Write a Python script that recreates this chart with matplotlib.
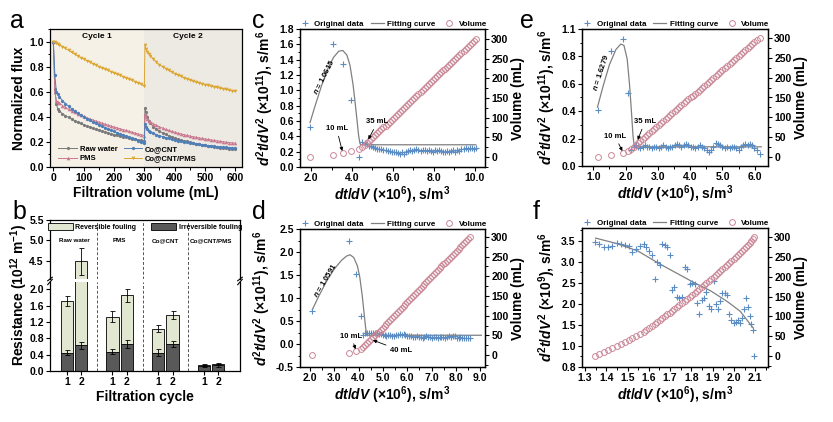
import matplotlib
matplotlib.use('Agg')
import matplotlib.pyplot as plt
from matplotlib.ticker import AutoMinorLocator, FixedLocator, FixedFormatter
from matplotlib.lines import Line2D
from matplotlib.patches import Patch

plt.rcParams['font.family'] = ['Liberation Sans', 'DejaVu Sans']
plt.rcParams['font.weight'] = 'bold'
plt.rcParams['axes.labelweight'] = 'bold'
plt.rcParams['mathtext.fontset'] = 'custom'
plt.rcParams['mathtext.rm'] = 'Liberation Sans:bold'
plt.rcParams['mathtext.it'] = 'Liberation Sans:italic:bold'
plt.rcParams['mathtext.bf'] = 'Liberation Sans:bold'
plt.rcParams['axes.linewidth'] = 0.9

#colours
GRAY = '#7a7a7a'
PINK = '#c97890'
BLUE = '#4f7fb8'
ORANGE = '#dba530'
CROSS = '#5b8cc4'
CIRC = '#c98796'
FIT = '#808080'
LIGHT = '#e2e7d2'
DARK = '#595959'

#PANEL A DATA (flux vs filtration volume, two cycles)
################################################################################
vol_a = [0, 5, 10, 15, 20, 30, 40, 50, 60, 70, 80, 90, 100, 110, 120, 130, 140,
         150, 160, 170, 180, 190, 200, 210, 220, 230, 240, 250, 260, 270, 280,
         290, 300,
         302, 305, 310, 315, 320, 330, 340, 350, 360, 370, 380, 390, 400, 410,
         420, 430, 440, 450, 460, 470, 480, 490, 500, 510, 520, 530, 540, 550,
         560, 570, 580, 590, 600]
raw_water = [1.0, 0.62, 0.50, 0.46, 0.445, 0.425, 0.41, 0.395, 0.382, 0.37, 0.358,
             0.347, 0.337, 0.327, 0.318, 0.309, 0.301, 0.293, 0.285, 0.278, 0.271,
             0.264, 0.258, 0.252, 0.246, 0.241, 0.236, 0.231, 0.226, 0.221, 0.216,
             0.212, 0.207,
             0.47, 0.44, 0.40, 0.37, 0.35, 0.32, 0.30, 0.285, 0.272, 0.26, 0.25,
             0.24, 0.232, 0.224, 0.217, 0.21, 0.204, 0.198, 0.192, 0.187, 0.182,
             0.177, 0.173, 0.169, 0.165, 0.161, 0.157, 0.154, 0.151, 0.148, 0.145,
             0.142, 0.14]
pms = [1.0, 0.60, 0.53, 0.52, 0.51, 0.49, 0.475, 0.46, 0.447, 0.435, 0.424, 0.413,
       0.403, 0.393, 0.384, 0.375, 0.366, 0.358, 0.35, 0.342, 0.334, 0.326, 0.319,
       0.312, 0.305, 0.298, 0.291, 0.284, 0.277, 0.27, 0.263, 0.257, 0.25,
       0.42, 0.40, 0.385, 0.37, 0.36, 0.345, 0.332, 0.32, 0.31, 0.30, 0.292, 0.284,
       0.277, 0.27, 0.264, 0.258, 0.252, 0.247, 0.242, 0.237, 0.232, 0.228, 0.224,
       0.22, 0.216, 0.212, 0.208, 0.205, 0.201, 0.198, 0.195, 0.192, 0.19]
co_cnt = [1.0, 0.73, 0.60, 0.58, 0.56, 0.53, 0.505, 0.485, 0.465, 0.447, 0.43,
          0.415, 0.40, 0.386, 0.373, 0.36, 0.348, 0.336, 0.325, 0.314, 0.303, 0.293,
          0.283, 0.273, 0.264, 0.255, 0.246, 0.237, 0.228, 0.22, 0.211, 0.203, 0.195,
          0.34, 0.32, 0.30, 0.29, 0.28, 0.268, 0.258, 0.25, 0.242, 0.235, 0.228,
          0.222, 0.216, 0.21, 0.205, 0.20, 0.196, 0.192, 0.188, 0.184, 0.18, 0.177,
          0.174, 0.171, 0.168, 0.165, 0.163, 0.16, 0.158, 0.156, 0.154, 0.152, 0.15]
co_cnt_pms = [1.00, 0.995, 0.99, 0.98, 0.975, 0.96, 0.945, 0.93, 0.915, 0.90, 0.885,
              0.872, 0.86, 0.848, 0.836, 0.824, 0.812, 0.80, 0.79, 0.78, 0.77, 0.76,
              0.75, 0.74, 0.73, 0.72, 0.71, 0.70, 0.69, 0.68, 0.67, 0.66, 0.645,
              0.97, 0.94, 0.92, 0.90, 0.885, 0.86, 0.835, 0.815, 0.80, 0.785, 0.77,
              0.757, 0.745, 0.734, 0.723, 0.713, 0.703, 0.695, 0.686, 0.678, 0.671,
              0.664, 0.657, 0.651, 0.645, 0.639, 0.634, 0.628, 0.623, 0.618, 0.613,
              0.608, 0.603]

#PANEL B DATA (fouling resistance)
################################################################################
groups = ['Raw water', 'PMS', 'Co@CNT', 'Co@CNT/PMS']
cycle_labels = ['1', '2', '1', '2', '1', '2', '1', '2']
bar_pos = [0, 1, 3.15, 4.15, 6.3, 7.3, 9.45, 10.45]
irreversible = [0.45, 0.63, 0.47, 0.66, 0.45, 0.66, 0.13, 0.14]
irreversible_err = [0.06, 0.08, 0.06, 0.10, 0.08, 0.07, 0.02, 0.03]
reversible = [1.26, 3.86, 0.86, 1.19, 0.59, 0.71, 0.02, 0.03]
total_err = [0.13, 0.33, 0.13, 0.16, 0.08, 0.10, 0.02, 0.02]

#PANELS C-F DATA (d2t/dV2 vs dt/dV, and volume)
################################################################################
vol = [0, 5, 10, 15, 20, 25, 30, 35, 40, 45, 50, 55, 60, 65, 70, 75, 80, 85, 90,
       95, 100, 105, 110, 115, 120, 125, 130, 135, 140, 145, 150, 155, 160, 165,
       170, 175, 180, 185, 190, 195, 200, 205, 210, 215, 220, 225, 230, 235, 240,
       245, 250, 255, 260, 265, 270, 275, 280, 285, 290, 295, 300]

c_x = [1.95, 3.05, 3.55, 3.95, 4.35, 4.50, 4.62, 4.72, 4.83, 4.93, 5.03, 5.13,
       5.23, 5.34, 5.44, 5.54, 5.64, 5.74, 5.84, 5.94, 6.04, 6.14, 6.24, 6.35,
       6.45, 6.55, 6.65, 6.75, 6.85, 6.95, 7.05, 7.15, 7.25, 7.35, 7.45, 7.55,
       7.65, 7.75, 7.85, 7.95, 8.05, 8.15, 8.25, 8.35, 8.45, 8.55, 8.65, 8.75,
       8.85, 8.95, 9.05, 9.15, 9.25, 9.35, 9.45, 9.55, 9.65, 9.75, 9.85, 9.95, 10.05]
c_y = [0.52, 1.61, 1.34, 0.88, 0.13, 0.33, 0.31, 0.30, 0.28, 0.27, 0.26, 0.25,
       0.24, 0.24, 0.23, 0.22, 0.22, 0.21, 0.21, 0.20, 0.20, 0.19, 0.18, 0.17,
       0.19, 0.17, 0.20, 0.21, 0.22, 0.21, 0.22, 0.23, 0.22, 0.21, 0.22, 0.22,
       0.21, 0.22, 0.21, 0.20, 0.22, 0.21, 0.22, 0.21, 0.20, 0.19, 0.21, 0.20,
       0.21, 0.22, 0.20, 0.22, 0.21, 0.23, 0.24, 0.25, 0.24, 0.25, 0.25, 0.24, 0.25]
c_fit_x = [1.95, 2.2, 2.5, 2.8, 3.1, 3.35, 3.55, 3.75, 3.9, 4.05, 4.15, 4.25,
           4.32, 4.38, 4.42, 10.05]
c_fit_y = [0.58, 0.80, 1.05, 1.27, 1.43, 1.51, 1.52, 1.46, 1.33, 1.08, 0.85, 0.60,
           0.42, 0.32, 0.29, 0.29]

d_x = [2.10, 3.60, 3.90, 4.08, 4.18, 4.28, 4.36, 4.44, 4.51, 4.60, 4.67, 4.75,
       4.83, 4.91, 4.99, 5.07, 5.14, 5.22, 5.30, 5.38, 5.46, 5.53, 5.61, 5.69,
       5.77, 5.85, 5.92, 6.00, 6.08, 6.17, 6.24, 6.32, 6.40, 6.47, 6.55, 6.63,
       6.71, 6.79, 6.86, 6.94, 7.02, 7.10, 7.18, 7.25, 7.33, 7.41, 7.49, 7.57,
       7.64, 7.72, 7.80, 7.88, 7.96, 8.03, 8.11, 8.19, 8.27, 8.35, 8.42, 8.50, 8.60]
d_y = [0.72, 2.23, 1.52, 0.61, 0.20, 0.24, 0.25, 0.24, 0.25, 0.24, 0.23, 0.24,
       0.22, 0.21, 0.20, 0.19, 0.18, 0.19, 0.20, 0.18, 0.17, 0.19, 0.20, 0.21,
       0.20, 0.21, 0.19, 0.18, 0.17, 0.18, 0.16, 0.15, 0.17, 0.16, 0.15, 0.14,
       0.16, 0.17, 0.16, 0.15, 0.14, 0.16, 0.15, 0.13, 0.15, 0.16, 0.15, 0.14,
       0.16, 0.17, 0.16, 0.18, 0.17, 0.14, 0.13, 0.15, 0.14, 0.13, 0.12, 0.13, 0.12]
d_fit_x = [2.10, 2.4, 2.7, 3.0, 3.3, 3.5, 3.65, 3.8, 3.95, 4.05, 4.15, 4.22, 4.28,
           4.33, 9.05]
d_fit_y = [0.75, 1.08, 1.38, 1.63, 1.82, 1.91, 1.94, 1.88, 1.70, 1.45, 1.05, 0.70,
           0.40, 0.19, 0.19]

e_x = [1.13, 1.56, 1.93, 2.08, 2.17, 2.25, 2.32, 2.39, 2.46, 2.53, 2.60, 2.67,
       2.74, 2.81, 2.88, 2.95, 3.03, 3.10, 3.17, 3.24, 3.31, 3.38, 3.45, 3.52,
       3.59, 3.66, 3.73, 3.80, 3.87, 3.94, 4.01, 4.09, 4.16, 4.23, 4.30, 4.37,
       4.44, 4.51, 4.58, 4.65, 4.72, 4.79, 4.86, 4.93, 5.00, 5.07, 5.14, 5.22,
       5.29, 5.36, 5.43, 5.50, 5.57, 5.64, 5.71, 5.78, 5.85, 5.92, 5.99, 6.06, 6.15]
e_y = [0.41, 0.84, 0.93, 0.53, 0.12, 0.14, 0.15, 0.14, 0.13, 0.14, 0.15, 0.14,
       0.14, 0.13, 0.14, 0.14, 0.13, 0.14, 0.15, 0.14, 0.13, 0.14, 0.14, 0.15,
       0.16, 0.15, 0.14, 0.15, 0.16, 0.15, 0.14, 0.14, 0.13, 0.14, 0.15, 0.14,
       0.13, 0.12, 0.10, 0.12, 0.14, 0.17, 0.16, 0.15, 0.14, 0.13, 0.14, 0.13,
       0.14, 0.14, 0.13, 0.12, 0.14, 0.15, 0.16, 0.15, 0.16, 0.15, 0.13, 0.12, 0.09]
e_fit_x = [1.13, 1.3, 1.5, 1.7, 1.85, 1.95, 2.05, 2.12, 2.18, 2.23, 2.27, 6.2]
e_fit_y = [0.43, 0.58, 0.74, 0.85, 0.89, 0.88, 0.78, 0.60, 0.40, 0.22, 0.14, 0.14]

f_x = [1.347, 1.368, 1.388, 1.409, 1.429, 1.450, 1.470, 1.488, 1.505, 1.523,
       1.540, 1.558, 1.575, 1.588, 1.601, 1.614, 1.627, 1.640, 1.653, 1.664,
       1.675, 1.686, 1.698, 1.709, 1.720, 1.731, 1.743, 1.756, 1.768, 1.780,
       1.793, 1.805, 1.816, 1.827, 1.838, 1.849, 1.860, 1.871, 1.882, 1.893,
       1.904, 1.914, 1.925, 1.935, 1.946, 1.956, 1.967, 1.977, 1.988, 1.998,
       2.009, 2.019, 2.030, 2.039, 2.048, 2.057, 2.066, 2.074, 2.082, 2.089, 2.095]
f_y = [3.47, 3.42, 3.36, 3.35, 3.37, 3.44, 3.43, 3.40, 3.38, 3.22,
       3.29, 3.37, 3.42, 3.35, 3.25, 3.17, 2.58, 2.99, 2.93, 3.42,
       3.40, 3.34, 3.15, 2.32, 2.40, 2.17, 2.14, 2.16, 2.88, 2.83,
       2.47, 2.50, 2.47, 2.03, 1.77, 2.10, 2.15, 2.29, 1.95, 1.88,
       2.54, 2.00, 1.88, 2.06, 2.25, 2.25, 2.22, 1.75, 1.61, 1.55,
       1.58, 1.61, 1.54, 1.67, 1.88, 2.14, 1.92, 1.71, 1.53, 1.39, 0.75]
f_fit_x = [1.35, 1.45, 1.55, 1.65, 1.73, 1.81, 1.89, 1.97, 2.03, 2.09]
f_fit_y = [3.56, 3.43, 3.25, 2.95, 2.73, 2.51, 2.31, 2.05, 1.82, 1.43]

#LAYOUT
################################################################################
W, H = 833, 422
fig = plt.figure(figsize=(W / 100, H / 100), dpi=100)


def px_rect(x0, y0, x1, y1):
    return [x0 / W, 1 - y1 / H, (x1 - x0) / W, (y1 - y0) / H]


def style_ticks(ax, minor_x=True, minor_y=True):
    ax.tick_params(which='major', direction='out', length=3, width=0.8,
                   labelsize=7.5, pad=1.5)
    ax.tick_params(which='minor', direction='out', length=1.8, width=0.7)
    if minor_x:
        ax.xaxis.set_minor_locator(AutoMinorLocator(2))
    if minor_y:
        ax.yaxis.set_minor_locator(AutoMinorLocator(2))


#A: NORMALIZED FLUX
################################################################################
ax_a = fig.add_axes(px_rect(50, 29, 242, 167))
ax_a.axvspan(-11, 300, color='#f5f1e6', lw=0, zorder=0)
ax_a.axvspan(300, 622, color='#edeae3', lw=0, zorder=0)
ax_a.plot(vol_a, raw_water, '-o', color=GRAY, ms=2.3, lw=0.7, mew=0, label='Raw water')
ax_a.plot(vol_a, pms, '-^', color=PINK, ms=2.6, lw=0.7, mew=0, label='PMS')
ax_a.plot(vol_a, co_cnt, '-h', color=BLUE, ms=2.6, lw=0.7, mew=0, label='Co@CNT')
ax_a.plot(vol_a, co_cnt_pms, '-v', color=ORANGE, ms=2.6, lw=0.7, mew=0, label='Co@CNT/PMS')
ax_a.set_xlim(-11, 622)
ax_a.set_ylim(0, 1.1)
ax_a.set_xticks([0, 100, 200, 300, 400, 500, 600])
ax_a.set_yticks([0.0, 0.2, 0.4, 0.6, 0.8, 1.0])
ax_a.set_yticklabels(['0.0', '0.2', '0.4', '0.6', '0.8', '1.0'])
style_ticks(ax_a)
ax_a.text(145, 1.04, 'Cycle 1', fontsize=6, ha='center', va='center')
ax_a.text(445, 1.04, 'Cycle 2', fontsize=6, ha='center', va='center')
ax_a.set_xlabel('Filtration volume (mL)', fontsize=10, labelpad=2)
ax_a.set_ylabel('Normalized flux', fontsize=10, labelpad=2)
ax_a.legend(loc='lower left', bbox_to_anchor=(0.02, 0.0), ncol=2, frameon=False,
            fontsize=5.5, handlelength=2.4, labelspacing=0.25, columnspacing=0.8,
            handletextpad=0.4, borderaxespad=0.2)

#B: FOULING RESISTANCE (broken axis)
################################################################################
ax_bu = fig.add_axes(px_rect(50, 220, 240, 279))
ax_bl = fig.add_axes(px_rect(50, 282, 240, 371))
totals = [i + r for i, r in zip(irreversible, reversible)]
for ax in (ax_bu, ax_bl):
    ax.bar(bar_pos, irreversible, width=0.85, color=DARK, edgecolor='black', lw=0.6)
    ax.bar(bar_pos, reversible, width=0.85, bottom=irreversible, color=LIGHT,
           edgecolor='black', lw=0.6)
    ax.errorbar(bar_pos, irreversible, yerr=irreversible_err, fmt='none',
                ecolor='black', elinewidth=0.6, capsize=1.8, capthick=0.6)
    ax.errorbar(bar_pos, totals, yerr=total_err, fmt='none', ecolor='black',
                elinewidth=0.6, capsize=1.8, capthick=0.6)
    for sep in [2.075, 5.225, 8.375]:
        ax.axvline(sep, color='#555555', ls=(0, (3, 2)), lw=0.7)
    ax.set_xlim(-1.16, 11.95)
    style_ticks(ax, minor_x=False, minor_y=False)

ax_bl.set_ylim(0, 2.18)
ax_bl.set_yticks([0.0, 0.4, 0.8, 1.2, 1.6, 2.0])
ax_bl.set_yticklabels(['0.0', '0.4', '0.8', '1.2', '1.6', '2.0'])
ax_bl.set_xticks(bar_pos)
ax_bl.set_xticklabels(cycle_labels)
ax_bl.spines['top'].set_visible(False)
ax_bl.set_xlabel('Filtration cycle', fontsize=10, labelpad=2)

ax_bu.set_ylim(4.05, 5.5)
ax_bu.set_yticks([4.5, 5.0, 5.5])
ax_bu.set_yticklabels(['4.5', '5.0', '5.5'])
ax_bu.set_xticks([])
ax_bu.spines['bottom'].set_visible(False)
for g, name in enumerate(groups):
    ax_bu.text(bar_pos[2 * g] + 0.5, 5.0, name, fontsize=4.5, ha='center', va='center')
ax_bu.legend(handles=[Patch(facecolor=LIGHT, edgecolor='black', lw=0.6, label='Reversible fouling'),
                      Patch(facecolor=DARK, edgecolor='black', lw=0.6, label='Irreversible fouling')],
             loc='upper center', bbox_to_anchor=(0.5, 1.02), ncol=2, frameon=False,
             fontsize=5, handlelength=3.6, handleheight=1.1, columnspacing=2.2,
             handletextpad=0.3, borderaxespad=0.2)

#break marks
for ax, yb in ((ax_bl, 1.0), (ax_bu, 0.0)):
    for xb in (0.0, 1.0):
        ax.plot([xb - 0.012, xb + 0.012], [yb - 0.03, yb + 0.03], color='black',
                lw=0.8, transform=ax.transAxes, clip_on=False)

fig.text(19 / W, 1 - 295 / H, 'Resistance (10$^{12}$ m$^{-1}$)', rotation=90,
         fontsize=10, ha='center', va='center')


#C-F: BLOCKING MODEL PANELS
################################################################################
def dtdv_panel(rect, x, y, fit_x, fit_y, xlim, xticks, ylim, yticks, ylabels,
               vlim, ylab):
    ax = fig.add_axes(rect)
    ax2 = ax.twinx()
    ax.plot(fit_x, fit_y, color=FIT, lw=0.9, zorder=2)
    ax.plot(x, y, '+', color=CROSS, ms=5, mew=0.8, zorder=3)
    ax2.plot(x, vol, 'o', mfc='none', mec=CIRC, ms=4.2, mew=0.7)
    ax.set_xlim(xlim)
    ax.set_ylim(ylim)
    ax.set_xticks(xticks)
    ax.set_xticklabels(['%.1f' % t for t in xticks])
    ax.yaxis.set_major_locator(FixedLocator(yticks))
    ax.yaxis.set_major_formatter(FixedFormatter(ylabels))
    ax2.set_ylim(vlim)
    ax2.set_yticks([0, 50, 100, 150, 200, 250, 300])
    style_ticks(ax)
    style_ticks(ax2, minor_x=False)
    ax.set_xlabel('$dt/dV$ (×10$^6$), s/m$^3$', fontsize=10, labelpad=1)
    ax.set_ylabel(ylab, fontsize=10, labelpad=2)
    ax2.set_ylabel('Volume (mL)', fontsize=10, labelpad=2)
    handles = [Line2D([], [], marker='+', ls='none', color=CROSS, ms=5, mew=0.8),
               Line2D([], [], color=FIT, lw=0.9),
               Line2D([], [], marker='o', ls='none', mfc='none', mec=CIRC, ms=4.2, mew=0.7)]
    ax.legend(handles, ['Original data', 'Fitting curve', 'Volume'],
              loc='lower center', bbox_to_anchor=(0.5, 1.005), ncol=3, frameon=False,
              fontsize=5.8, handlelength=1.6, columnspacing=0.9, handletextpad=0.4,
              borderaxespad=0, borderpad=0)
    return ax, ax2


arrow = dict(arrowstyle='-|>', color='black', lw=0.6, mutation_scale=5,
             shrinkA=1, shrinkB=1.5)
lab11 = '$d^2t/dV^2$ (×10$^{11}$), s/m$^6$'

#C
ax_c, ax_c2 = dtdv_panel(px_rect(300, 29, 485, 167), c_x, c_y, c_fit_x, c_fit_y,
                         (1.46, 10.5), [2.0, 4.0, 6.0, 8.0, 10.0],
                         (0, 1.8), [0, 0.2, 0.4, 0.6, 0.8, 1.0, 1.2, 1.4, 1.6, 1.8],
                         ['0.0', '0.2', '0.4', '0.6', '0.8', '1.0', '1.2', '1.4', '1.6', '1.8'],
                         (-25.5, 325.5), lab11)
ax_c.text(2.6, 1.18, '$n$ = 1.0615', fontsize=5.5, rotation=63, ha='center', va='center')
ax_c2.annotate('10 mL', xy=(3.55, 10), xytext=(3.25, 72), fontsize=5.5,
               ha='center', va='center', arrowprops=arrow)
ax_c2.annotate('35 mL', xy=(4.75, 40), xytext=(5.25, 89), fontsize=5.5,
               ha='center', va='center', arrowprops=arrow)

#D
ax_d, ax_d2 = dtdv_panel(px_rect(300, 229, 485, 367), d_x, d_y, d_fit_x, d_fit_y,
                         (1.59, 9.2), [2.0, 3.0, 4.0, 5.0, 6.0, 7.0, 8.0, 9.0],
                         (-0.5, 2.5), [-0.5, 0.0, 0.5, 1.0, 1.5, 2.0, 2.5],
                         ['-0.5', '0.0', '0.5', '1.0', '1.5', '2.0', '2.5'],
                         (-30, 320), lab11)
ax_d.text(2.62, 1.39, '$n$ = 1.0591', fontsize=5.5, rotation=59, ha='center', va='center')
ax_d2.annotate('10 mL', xy=(3.9, 10), xytext=(3.7, 48), fontsize=5.5,
               ha='center', va='center', arrowprops=arrow)
ax_d2.annotate('40 mL', xy=(4.51, 40), xytext=(5.75, 11), fontsize=5.5,
               ha='center', va='center', arrowprops=arrow)

#E
ax_e, ax_e2 = dtdv_panel(px_rect(582, 29, 768, 166), e_x, e_y, e_fit_x, e_fit_y,
                         (0.65, 6.41), [1.0, 2.0, 3.0, 4.0, 5.0, 6.0],
                         (0, 1.0), [0, 0.2, 0.4, 0.6, 0.8, 1.0],
                         ['0.0', '0.2', '0.4', '0.6', '0.8', '1.1'],
                         (-23, 323), lab11)
ax_e.text(1.23, 0.68, '$n$ = 1.6279', fontsize=5.5, rotation=72, ha='center', va='center')
ax_e2.annotate('10 mL', xy=(1.93, 10), xytext=(1.67, 52), fontsize=5.5,
               ha='center', va='center', arrowprops=arrow)
ax_e2.annotate('35 mL', xy=(2.35, 38), xytext=(2.6, 89), fontsize=5.5,
               ha='center', va='center', arrowprops=arrow)

#F
ax_f, ax_f2 = dtdv_panel(px_rect(582, 228, 768, 367), f_x, f_y, f_fit_x, f_fit_y,
                         (1.286, 2.16), [1.3, 1.4, 1.5, 1.6, 1.7, 1.8, 1.9, 2.0, 2.1],
                         (0.5, 3.8), [0.5, 1.0, 1.5, 2.0, 2.5, 3.0, 3.5],
                         ['0.8', '1.0', '1.5', '2.0', '2.5', '3.0', '3.5'],
                         (-28, 324), '$d^2t/dV^2$ (×10$^9$), s/m$^6$')

#panel letters
for letter, x, y in (('a', 10, 28), ('b', 12, 219), ('c', 252, 28),
                     ('d', 252, 219), ('e', 520, 28), ('f', 533, 219)):
    fig.text(x / W, 1 - y / H, letter, fontsize=18, fontweight='normal',
             ha='left', va='baseline')

fig.savefig('out.png', dpi=100)
